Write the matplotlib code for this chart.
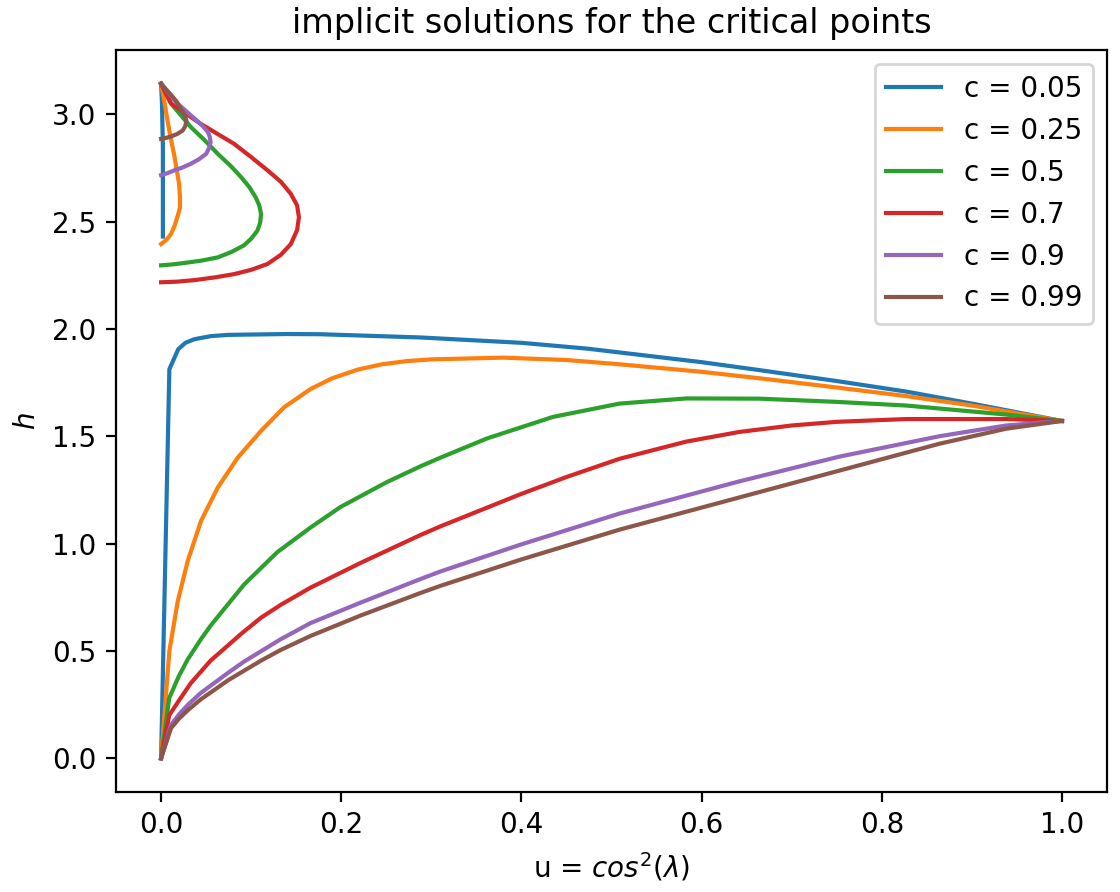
import matplotlib
matplotlib.use("Agg")
import matplotlib.pyplot as plt

c_values = [0.05, 0.25, 0.5, 0.7, 0.9, 0.99]
colors = ['tab:blue', 'tab:orange', 'tab:green', 'tab:red', 'tab:purple', 'tab:brown']

# lower branch (from u=0 up to u=1)
u_low = [
    [0, 0.0092, 0.019, 0.027, 0.037, 0.055, 0.074, 0.14, 0.177, 0.288, 0.4, 0.473, 0.6, 0.664, 0.75, 0.827, 0.9, 1.0],
    [0, 0.0092, 0.0185, 0.0295, 0.0443, 0.0628, 0.085, 0.111, 0.1366, 0.166, 0.19, 0.218, 0.245, 0.273, 0.3, 0.38, 0.45, 0.509, 0.6, 0.664, 0.75, 0.827, 0.9, 1.0],
    [0, 0.009, 0.02, 0.0295, 0.0443, 0.0554, 0.0923, 0.129, 0.166, 0.199, 0.25, 0.288, 0.31, 0.362, 0.435, 0.509, 0.583, 0.664, 0.75, 0.827, 0.938, 1.0],
    [0, 0.009, 0.02, 0.033, 0.055, 0.089, 0.111, 0.133, 0.166, 0.2215, 0.288, 0.31, 0.399, 0.45, 0.509, 0.583, 0.642, 0.7, 0.75, 0.827, 0.938, 1.0],
    [0, 0.011, 0.02, 0.03, 0.0443, 0.075, 0.092, 0.133, 0.166, 0.2215, 0.288, 0.31, 0.399, 0.509, 0.642, 0.753, 0.864, 0.938, 1.0],
    [0, 0.011, 0.02, 0.03, 0.0443, 0.075, 0.111, 0.133, 0.166, 0.2215, 0.288, 0.31, 0.399, 0.509, 0.642, 0.753, 0.864, 0.938, 1.0],
]
h_low = [
    [0, 1.812, 1.905, 1.935, 1.952, 1.966, 1.972, 1.976, 1.975, 1.96, 1.935, 1.908, 1.845, 1.808, 1.757, 1.708, 1.652, 1.571],
    [0, 0.50, 0.731, 0.918, 1.105, 1.26, 1.40, 1.525, 1.635, 1.72, 1.77, 1.81, 1.835, 1.85, 1.858, 1.866, 1.855, 1.835, 1.80, 1.77, 1.727, 1.687, 1.643, 1.571],
    [0, 0.28, 0.385, 0.46, 0.555, 0.62, 0.81, 0.96, 1.075, 1.17, 1.285, 1.36, 1.40, 1.49, 1.59, 1.652, 1.676, 1.675, 1.66, 1.643, 1.601, 1.571],
    [0, 0.20, 0.27, 0.35, 0.455, 0.58, 0.655, 0.715, 0.795, 0.91, 1.04, 1.08, 1.23, 1.31, 1.395, 1.475, 1.52, 1.55, 1.567, 1.58, 1.58, 1.571],
    [0, 0.155, 0.205, 0.25, 0.305, 0.40, 0.45, 0.555, 0.63, 0.725, 0.835, 0.87, 0.995, 1.14, 1.29, 1.405, 1.50, 1.55, 1.571],
    [0, 0.14, 0.185, 0.225, 0.275, 0.365, 0.455, 0.505, 0.57, 0.665, 0.77, 0.803, 0.925, 1.065, 1.215, 1.34, 1.465, 1.535, 1.571],
]

# upper branch (from h=pi back to u=0)
u_up = [
    [0, 0.001, 0.002, 0.002, 0.002],
    [0, 0.004, 0.009, 0.015, 0.020, 0.021, 0.021, 0.018, 0.015, 0.011, 0.006, 0],
    [0, 0.011, 0.033, 0.048, 0.063, 0.077, 0.089, 0.098, 0.105, 0.109, 0.111, 0.110, 0.107, 0.100, 0.092, 0.078, 0.063, 0.045, 0.026, 0.012, 0],
    [0, 0.011, 0.044, 0.081, 0.100, 0.118, 0.133, 0.144, 0.151, 0.153, 0.151, 0.144, 0.133, 0.118, 0.100, 0.081, 0.060, 0.037, 0.018, 0],
    [0, 0.018, 0.037, 0.045, 0.052, 0.054, 0.055, 0.053, 0.050, 0.042, 0.033, 0.024, 0.015, 0.007, 0],
    [0, 0.011, 0.017, 0.022, 0.026, 0.028, 0.027, 0.024, 0.018, 0.011, 0.005, 0],
]
h_up = [
    [3.1416, 3.05, 2.85, 2.6, 2.43],
    [3.1416, 3.05, 2.925, 2.80, 2.675, 2.613, 2.565, 2.52, 2.48, 2.442, 2.415, 2.395],
    [3.1416, 3.05, 2.94, 2.88, 2.815, 2.76, 2.706, 2.66, 2.613, 2.575, 2.535, 2.495, 2.458, 2.42, 2.389, 2.358, 2.333, 2.318, 2.307, 2.30, 2.296],
    [3.1416, 3.05, 2.955, 2.862, 2.80, 2.739, 2.685, 2.629, 2.575, 2.52, 2.46, 2.395, 2.345, 2.302, 2.275, 2.255, 2.24, 2.227, 2.22, 2.217],
    [3.1416, 3.05, 2.98, 2.95, 2.917, 2.895, 2.87, 2.84, 2.815, 2.79, 2.769, 2.752, 2.739, 2.725, 2.716],
    [3.1416, 3.09, 3.06, 3.025, 2.998, 2.971, 2.945, 2.924, 2.908, 2.896, 2.889, 2.885],
]

fig = plt.figure(figsize=(5.6, 4.46), dpi=200)
ax = fig.add_axes([0.1036, 0.1121, 0.8848, 0.8318])

for i, c in enumerate(c_values):
    ax.plot(u_low[i], h_low[i], color=colors[i], label='c = ' + str(c))
    ax.plot(u_up[i], h_up[i], color=colors[i])

ax.set_xlabel('u = $cos^2(\\lambda)$')
ax.set_ylabel('$h$')
ax.set_title('implicit solutions for the critical points')
ax.legend(loc='upper right')

fig.savefig('out.png', dpi=200)
